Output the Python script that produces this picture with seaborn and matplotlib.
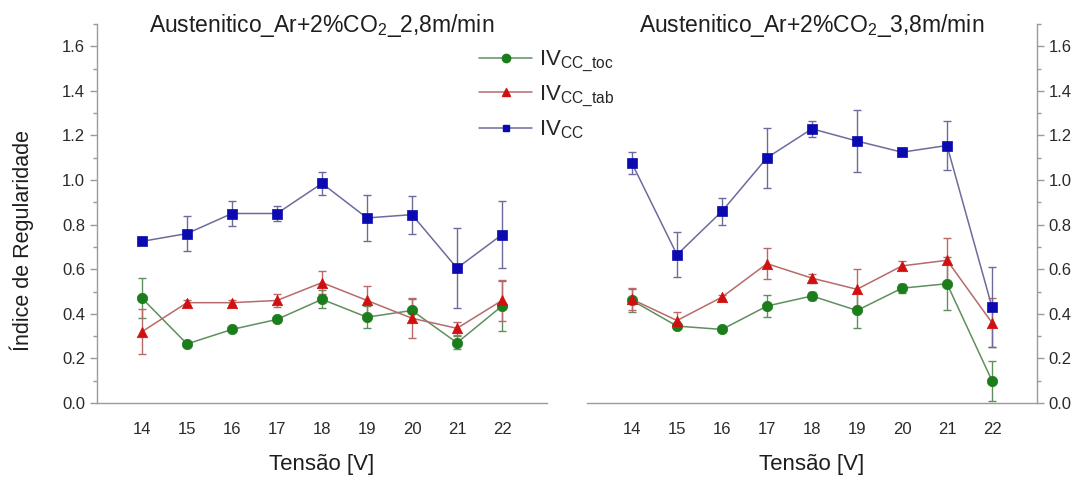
import matplotlib
matplotlib.use("Agg")
import matplotlib.pyplot as plt
import seaborn as sns
import pandas as pd
from matplotlib.ticker import MultipleLocator, FormatStrFormatter
from matplotlib.lines import Line2D

sns.set_theme(style="white")
plt.rcParams['font.family'] = ['Liberation Sans', 'DejaVu Sans']
plt.rcParams['mathtext.fontset'] = 'custom'
plt.rcParams['mathtext.rm'] = 'Liberation Sans'
plt.rcParams['mathtext.it'] = 'Liberation Sans'

voltages = [14, 15, 16, 17, 18, 19, 20, 21, 22]

# Left panel: 2,8 m/min
l_toc = [0.47, 0.265, 0.33, 0.375, 0.465, 0.385, 0.415, 0.27, 0.435]
l_toc_err = [0.09, 0.01, 0.01, 0.01, 0.04, 0.05, 0.05, 0.03, 0.11]
l_tab = [0.32, 0.45, 0.45, 0.46, 0.54, 0.46, 0.38, 0.335, 0.46]
l_tab_err = [0.10, 0.01, 0.01, 0.03, 0.05, 0.065, 0.09, 0.03, 0.09]
l_cc = [0.725, 0.76, 0.85, 0.85, 0.985, 0.83, 0.845, 0.605, 0.755]
l_cc_err = [0.01, 0.08, 0.055, 0.035, 0.05, 0.105, 0.085, 0.18, 0.15]

# Right panel: 3,8 m/min
r_toc = [0.46, 0.345, 0.33, 0.435, 0.48, 0.415, 0.515, 0.535, 0.10]
r_toc_err = [0.05, 0.01, 0.01, 0.05, 0.02, 0.08, 0.02, 0.12, 0.09]
r_tab = [0.465, 0.37, 0.475, 0.625, 0.56, 0.51, 0.615, 0.64, 0.36]
r_tab_err = [0.05, 0.04, 0.01, 0.07, 0.02, 0.09, 0.02, 0.10, 0.11]
r_cc = [1.075, 0.665, 0.86, 1.10, 1.23, 1.175, 1.125, 1.155, 0.43]
r_cc_err = [0.05, 0.10, 0.06, 0.135, 0.035, 0.14, 0.01, 0.11, 0.18]

titles = [r"Austenitico_Ar+2%CO$_2$_2,8m/min", r"Austenitico_Ar+2%CO$_2$_3,8m/min"]
labels = [r"IV$_{\mathrm{CC\_toc}}$", r"IV$_{\mathrm{CC\_tab}}$", r"IV$_{\mathrm{CC}}$"]
colors = ["#1c7d1c", "#d01010", "#0a0ab0"]
line_colors = ["#5f8f5f", "#b86a6a", "#6c6c9c"]
markers = ["o", "^", "s"]
msizes = [7.5, 7.5, 6.5]

panels = [
    (l_toc, l_toc_err, l_tab, l_tab_err, l_cc, l_cc_err),
    (r_toc, r_toc_err, r_tab, r_tab_err, r_cc, r_cc_err),
]

W, H = 1090, 479
fig = plt.figure(figsize=(10.9, 4.79), dpi=100)
ax_l = fig.add_axes([97/W, 76/H, 450/W, 379/H])
ax_r = fig.add_axes([587/W, 76/H, 450/W, 379/H])

spine_c = "#9a9a9a"
text_c = "#1e1e1e"
for i, (ax, data) in enumerate(zip([ax_l, ax_r], panels)):
    series = [(data[0], data[1]), (data[2], data[3]), (data[4], data[5])]
    for j, (vals, errs) in enumerate(series):
        df = pd.DataFrame({"V": voltages, "y": vals})
        ax.errorbar(voltages, vals, yerr=errs, fmt="none", ecolor=line_colors[j],
                    elinewidth=1.0, capsize=3, capthick=1.0, zorder=2)
        sns.lineplot(data=df, x="V", y="y", ax=ax, color=line_colors[j], linewidth=1.1,
                     zorder=3, legend=False)
        sns.scatterplot(data=df, x="V", y="y", ax=ax, color=colors[j], marker=markers[j],
                        s=msizes[j] ** 2, edgecolor=colors[j], linewidth=0.5, zorder=4,
                        legend=False)
    ax.set_xlim(13, 23)
    ax.set_ylim(0, 1.7)
    ax.set_xticks(voltages)
    ax.yaxis.set_major_locator(MultipleLocator(0.2))
    ax.yaxis.set_minor_locator(MultipleLocator(0.1))
    ax.yaxis.set_major_formatter(FormatStrFormatter("%.1f"))
    ax.set_xlabel("Tensão [V]", fontsize=16, color=text_c, labelpad=12)
    ax.text(0.5, 1 - 8/379, titles[i], transform=ax.transAxes, ha="center",
            va="baseline", fontsize=16.5, color=text_c)
    ax.tick_params(axis="both", which="major", labelsize=12, labelcolor="#2a2a2a",
                   color=spine_c, length=5, width=1, direction="out")
    ax.tick_params(axis="y", which="minor", color=spine_c, length=3, width=1, direction="out")
    ax.tick_params(axis="x", which="major", pad=9)
    for s in ax.spines.values():
        s.set_color(spine_c)
        s.set_linewidth(1.0)
    ax.spines["top"].set_visible(False)
    ax.set_facecolor("white")
    ax.grid(False)

ax_l.spines["right"].set_visible(False)
ax_l.set_ylabel("Índice de Regularidade", fontsize=15.5, color=text_c)
ax_l.yaxis.set_label_coords(-0.14, 0.43)
ax_l.tick_params(axis="y", which="both", left=True)
ax_r.spines["left"].set_visible(False)
ax_r.yaxis.tick_right()
ax_r.yaxis.set_label_position("right")
ax_r.set_ylabel("")
ax_r.tick_params(axis="y", which="both", right=True, left=False)

handles = [Line2D([0], [0], color=line_colors[j], linewidth=1.1, marker=markers[j],
                  markersize=msizes[j] - 1.5, markerfacecolor=colors[j],
                  markeredgecolor=colors[j]) for j in range(3)]
fig.legend(handles, labels, loc="upper left", bbox_to_anchor=(470/W, 1 - 40/H),
           frameon=False, fontsize=16, handlelength=2.4, labelspacing=0.42,
           handletextpad=0.3, borderaxespad=0)

fig.savefig("out.png", dpi=100, facecolor="white")
